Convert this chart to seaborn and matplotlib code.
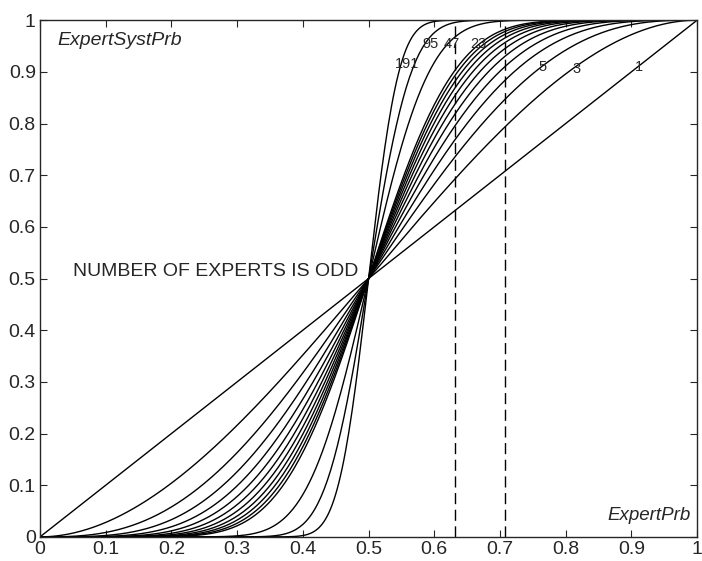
import math
import numpy as np
import pandas as pd
import seaborn as sns
import matplotlib
matplotlib.use("Agg")
import matplotlib.pyplot as plt

# number of experts (odd), as labelled / counted on the picture
experts = [1, 3, 5, 7, 9, 11, 13, 15, 17, 19, 21, 23, 47, 95, 191]
# curve labels shown on the chart and where they sit
label_text = ["191", "95", "47", "23", "5", "3", "1"]
label_x = [0.559, 0.595, 0.626, 0.667, 0.764, 0.816, 0.912]
label_y = [0.915, 0.954, 0.954, 0.954, 0.909, 0.906, 0.909]
# dashed reference lines
vlines = [0.632, 0.707]

p = np.linspace(0, 1, 401)

def majority(n, p):
    # probability that more than half of n experts are right
    return sum(math.comb(n, k) * p**k * (1 - p)**(n - k) for k in range(n // 2 + 1, n + 1))

rows = []
for n in experts:
    rows.append(pd.DataFrame({"ExpertPrb": p, "ExpertSystPrb": majority(n, p), "n": n}))
df = pd.concat(rows, ignore_index=True)

sns.set_style("ticks")
plt.rcParams["font.family"] = ["Liberation Sans", "DejaVu Sans"]

fig = plt.figure(figsize=(7.02, 5.61), dpi=100)
ax = fig.add_axes([0.057, 0.043, 0.936, 0.921])
sns.lineplot(data=df, x="ExpertPrb", y="ExpertSystPrb", hue="n",
             palette=["black"] * len(experts), legend=False, lw=1.0, ax=ax)

for v in vlines:
    ax.axvline(v, color="black", ls=(0, (8, 4)), lw=1.0)

for t, x, y in zip(label_text, label_x, label_y):
    ax.text(x, y, t, fontsize=10.5, ha="center", va="center")

ax.text(0.026, 0.977, "ExpertSystPrb", fontsize=14, style="italic", ha="left", va="top")
ax.text(0.99, 0.025, "ExpertPrb", fontsize=13.5, style="italic", ha="right", va="bottom")
ax.text(0.05, 0.513, "NUMBER OF EXPERTS IS ODD", fontsize=14, ha="left", va="center")

ax.set_xlim(0, 1)
ax.set_ylim(0, 1)
ax.set_xticks(np.arange(0, 1.01, 0.1))
ax.set_yticks(np.arange(0, 1.01, 0.1))
ax.set_xticklabels(["0", "0.1", "0.2", "0.3", "0.4", "0.5", "0.6", "0.7", "0.8", "0.9", "1"])
ax.set_yticklabels(["0", "0.1", "0.2", "0.3", "0.4", "0.5", "0.6", "0.7", "0.8", "0.9", "1"])
ax.set_xlabel("")
ax.set_ylabel("")
ax.tick_params(direction="in", top=True, right=True, labelsize=14, length=5, pad=3)
for s in ax.spines.values():
    s.set_linewidth(1.0)
    s.set_visible(True)

fig.savefig("out.png", dpi=100)
